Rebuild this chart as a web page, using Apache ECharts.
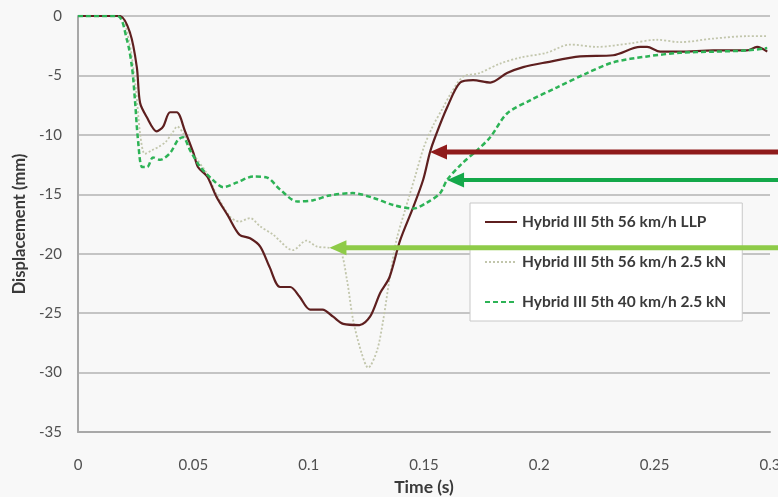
<!DOCTYPE html>
<html>
<head>
<meta charset="utf-8">
<script src="https://cdn.jsdelivr.net/npm/echarts@6/dist/echarts.min.js"></script>
<style>
html,body{margin:0;padding:0;background:#f8f8f8;}
#c{width:778px;height:497px;}
</style>
</head>
<body>
<div id="c"></div>
<script>
// ---- Data ----
const seriesNames = ['Hybrid III 5th 56 km/h LLP', 'Hybrid III 5th 56 km/h 2.5 kN', 'Hybrid III 5th 40 km/h 2.5 kN'];

const llpT = [0, 0.018, 0.0226, 0.0255, 0.0269, 0.0298, 0.0341, 0.0369, 0.0399, 0.0428, 0.0464, 0.050, 0.052, 0.056, 0.060, 0.065, 0.070, 0.0746, 0.079, 0.083, 0.0876, 0.092, 0.096, 0.1006, 0.106, 0.1106, 0.115, 0.122, 0.1266, 0.131, 0.135, 0.1396, 0.1453, 0.1496, 0.1526, 0.1548, 0.160, 0.1657, 0.1713, 0.1787, 0.186, 0.193, 0.203, 0.2177, 0.232, 0.2437, 0.2467, 0.2524, 0.261, 0.2754, 0.29, 0.2944, 0.2988];
const llpY = [0, 0, -1.45, -4.3, -7.3, -8.5, -9.7, -9.3, -8.1, -8.1, -9.7, -11.5, -12.7, -13.5, -15.2, -16.8, -18.4, -18.7, -19.4, -21.1, -22.8, -22.8, -23.6, -24.7, -24.7, -25.3, -25.9, -26.0, -25.3, -23.3, -22.0, -18.9, -16.1, -13.8, -11.45, -10.2, -7.7, -5.6, -5.4, -5.6, -4.8, -4.3, -3.9, -3.4, -3.3, -2.6, -2.6, -3.0, -3.0, -2.9, -2.9, -2.6, -3.0];

const kn56T = [0, 0.018, 0.022, 0.025, 0.027, 0.029, 0.032, 0.035, 0.038, 0.041, 0.043, 0.046, 0.050, 0.056, 0.060, 0.066, 0.070, 0.0746, 0.079, 0.0846, 0.0932, 0.099, 0.1036, 0.109, 0.1136, 0.1166, 0.1193, 0.123, 0.1258, 0.1297, 0.1323, 0.135, 0.138, 0.142, 0.146, 0.150, 0.154, 0.158, 0.162, 0.167, 0.174, 0.183, 0.1917, 0.203, 0.2134, 0.225, 0.2394, 0.251, 0.261, 0.2754, 0.29, 0.2988];
const kn56Y = [0, 0, -2, -6, -10, -11.6, -11.3, -11.0, -10.6, -9.8, -9.3, -10.0, -11.6, -13.3, -15.0, -16.9, -17.3, -17.0, -17.7, -18.4, -19.7, -18.9, -19.4, -19.5, -19.7, -22.2, -25.6, -28.4, -29.6, -28.1, -25.6, -22.2, -18.9, -16.2, -13.6, -11.0, -9.2, -7.8, -6.4, -5.1, -4.8, -4.0, -3.5, -3.1, -2.4, -2.6, -2.3, -2.0, -2.2, -1.9, -1.7, -1.7];

const kn40T = [0, 0.017, 0.0212, 0.0234, 0.0247, 0.026, 0.0278, 0.030, 0.0325, 0.0356, 0.040, 0.0434, 0.0455, 0.0486, 0.053, 0.0585, 0.063, 0.069, 0.076, 0.082, 0.0876, 0.095, 0.102, 0.109, 0.119, 0.128, 0.1366, 0.1453, 0.1513, 0.157, 0.160, 0.166, 0.173, 0.1787, 0.186, 0.196, 0.2077, 0.2207, 0.232, 0.2467, 0.261, 0.2754, 0.29, 0.2988];
const kn40Y = [0, 0, -2.0, -4.3, -7.1, -10.4, -12.7, -12.7, -11.9, -12.1, -11.5, -10.4, -10.2, -11.3, -12.7, -13.8, -14.4, -14.0, -13.5, -13.6, -14.6, -15.6, -15.5, -15.1, -14.9, -15.3, -15.9, -16.2, -15.7, -14.9, -13.8, -12.5, -11.3, -10.2, -8.2, -7.1, -6.0, -4.8, -3.9, -3.4, -3.1, -3.0, -2.9, -2.7];

// annotation arrows: tip time, level, colour
const arrowTipT = [0.1526, 0.160, 0.109];
const arrowLevel = [-11.45, -13.8, -19.5];
const arrowColor = ['#8f1b1b', '#14a84a', '#8ecb48'];
const arrowWidth = [5, 4, 5];

const xTicks = {min: 0, max: 0.3, interval: 0.05};
const yTicks = {min: -35, max: 0, interval: 5};

function pairs(t, y) { return t.map((v, i) => [v, y[i]]); }

const chart = echarts.init(document.getElementById('c'), null, {renderer: 'canvas'});
const fontFam = 'Lato, "Liberation Sans", sans-serif';

chart.setOption({
  backgroundColor: '#f8f8f8',
  animation: false,
  grid: {left: 78, right: 8, top: 16, bottom: 65, containLabel: false, outerBoundsMode: 'none'},
  legend: {
    data: seriesNames,
    orient: 'vertical',
    left: 470, top: 203,
    padding: [11, 16, 11, 14],
    itemGap: 24,
    itemWidth: 32, itemHeight: 18,
    itemStyle: {opacity: 0},
    backgroundColor: '#ffffff',
    borderColor: '#c8c8c8', borderWidth: 1,
    textStyle: {fontFamily: fontFam, fontSize: 15.5, fontWeight: 'bold', color: '#3a3a3a'}
  },
  xAxis: {
    type: 'value', min: xTicks.min, max: xTicks.max, interval: xTicks.interval,
    name: 'Time (s)', nameLocation: 'middle', nameGap: 45,
    nameTextStyle: {fontFamily: fontFam, fontSize: 17.5, fontWeight: 'bold', color: '#3a3a3a'},
    axisLine: {show: true, onZero: false, lineStyle: {color: '#a8a8a8', width: 2}},
    axisTick: {show: false},
    splitLine: {show: false},
    axisLabel: {margin: 26, fontFamily: fontFam, fontSize: 15, color: '#505050',
      formatter: v => String(+v.toFixed(2))}
  },
  yAxis: {
    type: 'value', min: yTicks.min, max: yTicks.max, interval: yTicks.interval,
    name: 'Displacement (mm)', nameLocation: 'middle', nameGap: 50,
    nameTextStyle: {fontFamily: fontFam, fontSize: 16.5, fontWeight: 'bold', color: '#3a3a3a'},
    axisLine: {show: true, lineStyle: {color: '#a8a8a8', width: 2}},
    axisTick: {show: false},
    splitLine: {show: true, lineStyle: {color: '#c4c4c4', width: 2}},
    axisLabel: {margin: 16, fontFamily: fontFam, fontSize: 15, color: '#505050'}
  },
  series: [
    {
      name: seriesNames[0], type: 'line', symbol: 'none', smooth: 0.3, z: 4,
      data: pairs(llpT, llpY),
      lineStyle: {color: '#5e1f1f', width: 2.2}, itemStyle: {color: '#5e1f1f'}
    },
    {
      name: seriesNames[1], type: 'line', symbol: 'none', smooth: 0.3, z: 3,
      data: pairs(kn56T, kn56Y),
      lineStyle: {color: '#c2c6ac', width: 1.8, type: [2, 2]}, itemStyle: {color: '#c2c6ac'}
    },
    {
      name: seriesNames[2], type: 'line', symbol: 'none', smooth: 0.3, z: 5,
      data: pairs(kn40T, kn40Y),
      lineStyle: {color: '#2db356', width: 2.5, type: [5, 3]}, itemStyle: {color: '#2db356'}
    }
  ]
});

// arrows (annotations) placed through the chart's own scales
const W = chart.getWidth();
const graphics = [];
arrowTipT.forEach((t, i) => {
  const p = chart.convertToPixel({gridIndex: 0}, [t, arrowLevel[i]]);
  const hl = 17, hw = 7.5;
  graphics.push({
    type: 'line', z: 100,
    shape: {x1: p[0] + hl - 2, y1: p[1], x2: W, y2: p[1]},
    style: {stroke: arrowColor[i], lineWidth: arrowWidth[i]}
  });
  graphics.push({
    type: 'polygon', z: 100,
    shape: {points: [[p[0], p[1]], [p[0] + hl, p[1] - hw], [p[0] + hl, p[1] + hw]]},
    style: {fill: arrowColor[i]}
  });
});
chart.setOption({graphic: graphics});
</script>
</body>
</html>
